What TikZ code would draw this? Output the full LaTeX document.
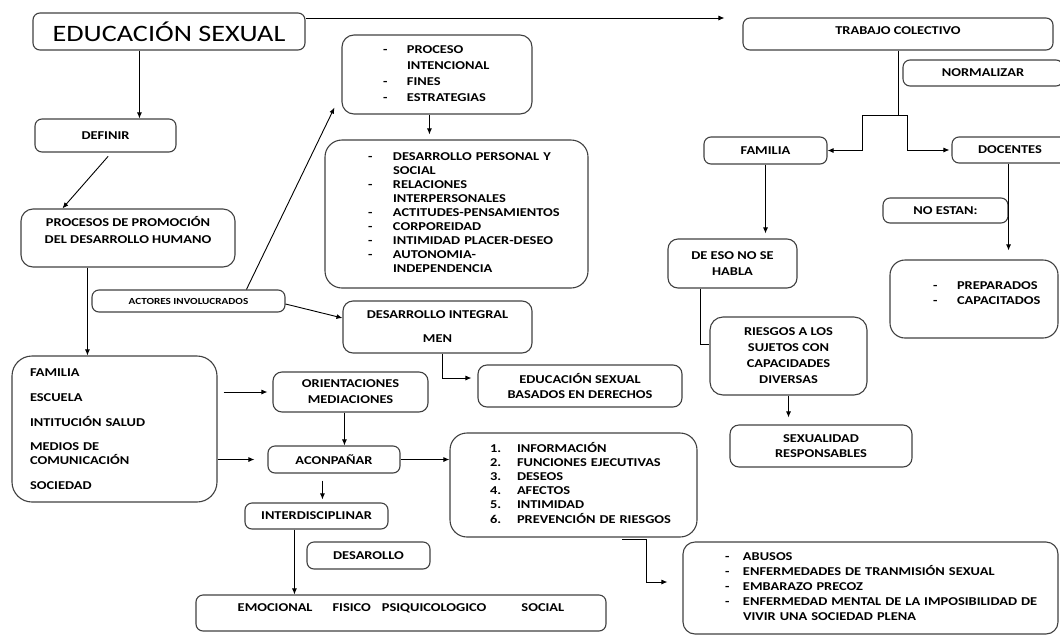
\documentclass[tikz,border=0pt]{standalone}
\usepackage{fontspec}
\setmainfont{Carlito}[FakeStretch=1.2]
\usetikzlibrary{arrows.meta,positioning}
\newcommand{\upby}[2]{\raisebox{#1}[0pt][0pt]{#2}}
\tikzset{
  box/.style={draw=black!75, line width=1.1pt, rounded corners=7pt, inner sep=0pt,
    align=center, font=\bfseries\fontsize{12}{14}\selectfont},
  bigbox/.style={box, rounded corners=17pt},
  arr/.style={-{Latex[length=6pt,width=5pt]}, line width=0.9pt},
  link/.style={line width=0.9pt},
}

\begin{document}
\begin{tikzpicture}[x=1pt,y=-1pt]
  \useasboundingbox (0,0) rectangle (1060,635);
  % Define nodes
  \node[box, minimum width=272, minimum height=37, font=\fontsize{23.5}{27}\selectfont] (edu) at (169,31.5) {EDUCACIÓN SEXUAL};
  \node[box, minimum width=141, minimum height=33] (defin) at (105.5,135.5) {DEFINIR};
  \node[box, rounded corners=12pt, minimum width=214, minimum height=58] (procesos) at (128,238)
    {\upby{2.5pt}{\begin{tabular}{@{}c@{}}PROCESOS DE PROMOCIÓN\\[3pt]DEL DESARROLLO HUMANO\end{tabular}}};
  \node[box, minimum width=193, minimum height=22, font=\bfseries\fontsize{9.3}{11}\selectfont] (actores) at (188.5,301) {ACTORES INVOLUCRADOS};
  \node[box, rounded corners=12pt, inner xsep=41, text width=108, minimum height=79, align=left] (proc) at (437,74.5)
    {\begin{tabular}{@{}p{24pt}@{}l@{}}-&PROCESO\\[2pt]&INTENCIONAL\\[2pt]-&FINES\\[2pt]-&ESTRATEGIAS\end{tabular}};
  \node[bigbox, inner xsep=43, text width=177, minimum height=148, align=left] (desl) at (456.5,214)
    {\begin{tabular}{@{}p{25pt}@{}l@{}}-&DESARROLLO PERSONAL Y\\&SOCIAL\\-&RELACIONES\\&INTERPERSONALES\\
      -&ACTITUDES-PENSAMIENTOS\\-&CORPOREIDAD\\-&INTIMIDAD PLACER-DESEO\\-&AUTONOMIA-\\&INDEPENDENCIA\end{tabular}};
  \node[bigbox, rounded corners=20pt, inner xsep=18, text width=169, minimum height=146, align=left] (agentes) at (114.5,429)
    {FAMILIA\\[11pt]ESCUELA\\[11pt]INTITUCIÓN SALUD\\[10pt]MEDIOS DE\\COMUNICACIÓN\\[11pt]SOCIEDAD};
  \node[box, minimum width=189, minimum height=52, rounded corners=10pt] (desint) at (437.5,327) {DESARROLLO INTEGRAL\\[10pt]MEN};
  \node[box, minimum width=204, minimum height=42, rounded corners=9pt] (derechos) at (580,386) {EDUCACIÓN SEXUAL\\[1pt]BASADOS EN DERECHOS};
  \node[box, minimum width=155, minimum height=40, rounded corners=9pt] (orient) at (350.5,392) {ORIENTACIONES\\[2pt]MEDIACIONES};
  \node[box, minimum width=132, minimum height=27] (aconp) at (334,459.5) {ACONPAÑAR};
  \node[bigbox, inner xsep=40, text width=167, minimum height=104, align=left] (info) at (573.5,485)
    {\begin{tabular}{@{}p{27pt}@{}l@{}}1.&INFORMACIÓN\\2.&FUNCIONES EJECUTIVAS\\3.&DESEOS\\4.&AFECTOS\\5.&INTIMIDAD\\6.&PREVENCIÓN DE RIESGOS\end{tabular}};
  \node[box, minimum width=143, minimum height=26] (interd) at (316.5,516) {INTERDISCIPLINAR};
  \node[box, minimum width=123, minimum height=27] (desar) at (368.5,555.5) {DESAROLLO};
  \node[box, minimum width=410, minimum height=36] (dimens) at (401,613)
    {\upby{2pt}{EMOCIONAL\hspace{20pt}FISICO\hspace{11pt}PSIQUICOLOGICO\hspace{35pt}SOCIAL}};
  \node[box, rounded corners=12pt, inner xsep=42, text width=291, minimum height=92, align=left] (consec) at (870.5,588)
    {\begin{tabular}{@{}p{18pt}@{}l@{}}-&ABUSOS\\[1pt]-&ENFERMEDADES DE TRANMISIÓN SEXUAL\\[1pt]-&EMBARAZO PRECOZ\\[1pt]
      -&ENFERMEDAD MENTAL DE LA IMPOSIBILIDAD DE\\[1pt]&VIVIR UNA SOCIEDAD PLENA\end{tabular}};

  \node[box, minimum width=310, minimum height=32] (trab) at (898,34) {\upby{0pt}{TRABAJO COLECTIVO}};
  \node[box, minimum width=160, minimum height=26] (norm) at (983,73) {NORMALIZAR};
  \node[box, minimum width=123, minimum height=27] (fam) at (765.5,150.5) {FAMILIA};
  \node[box, minimum width=116, minimum height=26] (doc) at (1010,150) {DOCENTES};
  \node[box, minimum width=129, minimum height=49, rounded corners=10pt] (deeso) at (732.5,263.5) {DE ESO NO SE\\[2pt]HABLA};
  \node[box, minimum width=125, minimum height=25] (noestan) at (945.5,210.5) {NO ESTAN:};
  \node[box, rounded corners=15pt, inner xsep=43, text width=82, minimum height=78, align=left] (prep) at (974,299)
    {\upby{1.5pt}{\begin{tabular}{@{}p{24pt}@{}l@{}}-&PREPARADOS\\[1pt]-&CAPACITADOS\end{tabular}}};
  \node[box, minimum width=157, minimum height=78, rounded corners=13pt] (riesgos) at (788.5,356)
    {RIESGOS A LOS\\[2pt]SUJETOS CON\\[2pt]CAPACIDADES\\[2pt]DIVERSAS};
  \node[box, minimum width=182, minimum height=42, rounded corners=9pt] (sexres) at (821,446) {SEXUALIDAD\\[1pt]RESPONSABLES};
  \coordinate[below=65pt of trab.south] (split);

  % Connect the nodes
  \draw[arr] ([xshift=107]edu.south west) -- ([xshift=105]defin.north west);
  \draw[arr, shorten <=5pt] ([xshift=77]defin.south west) -- ([xshift=42]procesos.north west);
  \draw[arr] ([xshift=67]procesos.south west) -- ([xshift=76]agentes.north west);
  \draw[arr] ([xshift=155]actores.north west) -- ([shift={(-7,-7)}]proc.south west);
  \draw[arr, shorten >=5pt] ([xshift=88]proc.south west) -- ([xshift=105]desl.north west);
  \draw[arr] ([shift={(0,3)}]actores.east) -- ([shift={(0,-9)}]desint.west);
  \draw[arr, shorten >=6pt] ([xshift=100]desint.south west) |- ([shift={(0,-8)}]derechos.west);
  \draw[arr, shorten <=6pt, shorten >=5pt] (agentes.east |- orient.west) -- (orient.west);
  \draw[arr, shorten >=13pt] (agentes.east |- aconp.west) -- (aconp.west);
  \draw[arr] ([xshift=72]orient.south west) -- ([xshift=77]aconp.north west);
  \draw[arr] (aconp.east) -- (aconp.east -| info.west);
  \draw[arr, shorten <=7pt, shorten >=3pt] ([xshift=55]aconp.south west) -- ([xshift=78]interd.north west);
  \draw[arr] ([xshift=50]interd.south west) -- ([xshift=99]dimens.north west);
  \draw[arr, shorten >=15pt] ([shift={(173,2)}]info.south west) -| ([shift={(-36,-6)}]consec.west) -- ([shift={(0,-6)}]consec.west);

  \draw[arr, shorten >=18pt] ([shift={(0,-13.5)}]edu.east) -- ([shift={(0,-16)}]trab.west);
  \draw[link] (trab.south) -- (split);
  \draw[arr] (split) -- ++(-36,0) |- (fam.east);
  \draw[arr, shorten >=2pt] (split) -- ++(9,0) |- (doc.west);
  \draw[arr, shorten >=5pt] (fam.south) -- (fam.south |- deeso.north);
  \draw[link] ([xshift=33]deeso.south west) |- ([shift={(0,-12)}]riesgos.west);
  \draw[arr, shorten >=7pt] (riesgos.south) -- (riesgos.south |- sexres.north);
  \draw[arr, shorten >=9pt] (doc.south -| noestan.east) -- (prep.north -| noestan.east);
\end{tikzpicture}
\end{document}
